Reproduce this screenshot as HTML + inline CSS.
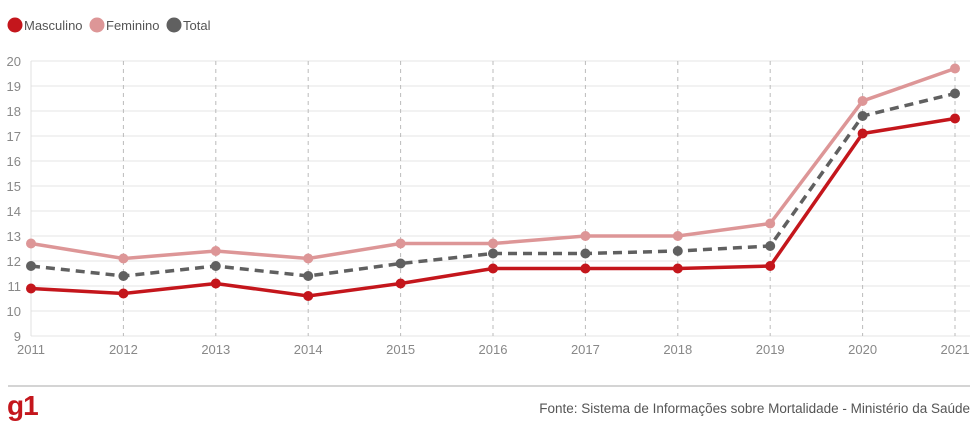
<!DOCTYPE html>
<html><head><meta charset="utf-8"><style>
body{margin:0;background:#fff;width:980px;height:432px;overflow:hidden;font-family:"Liberation Sans",sans-serif}
svg{position:absolute;left:0;top:0}
</style></head><body>
<svg width="980" height="432">
<g font-size="13" fill="#555">
<g><circle cx="15" cy="25" r="7.5" fill="#c4161c"/><text x="24" y="30">Masculino</text></g>
<g><circle cx="97" cy="25" r="7.5" fill="#dd9697"/><text x="106" y="30">Feminino</text></g>
<g><circle cx="174" cy="25" r="7.5" fill="#606060"/><text x="183" y="30">Total</text></g>
</g>
<g id="grid"></g>
<g id="marks"></g>
<line x1="8" x2="970" y1="386" y2="386" stroke="#aaa"/>
<text x="7" y="415" font-size="28" font-weight="bold" fill="#c4161c" letter-spacing="-1">g1</text>
<text x="970" y="413" font-size="13.5" fill="#555" text-anchor="end">Fonte: Sistema de Informações sobre Mortalidade - Ministério da Saúde</text>
</svg>
<script>
const years=[2011,2012,2013,2014,2015,2016,2017,2018,2019,2020,2021];
const masculino=[10.9,10.7,11.1,10.6,11.1,11.7,11.7,11.7,11.8,17.1,17.7];
const feminino=[12.7,12.1,12.4,12.1,12.7,12.7,13.0,13.0,13.5,18.4,19.7];
const total=[11.8,11.4,11.8,11.4,11.9,12.3,12.3,12.4,12.6,17.8,18.7];
const yTicks=[9,10,11,12,13,14,15,16,17,18,19,20];
const NS="http://www.w3.org/2000/svg";
const x=i=>31+i*(955-31)/(years.length-1);
const y=v=>336-(v-9)*25;
function mk(t,a,p){const e=document.createElementNS(NS,t);for(const k in a)e.setAttribute(k,a[k]);p.appendChild(e);return e;}
const g=document.getElementById('grid');
yTicks.forEach(v=>{
const l=mk('line',{x1:31,x2:970,y1:y(v),y2:y(v),stroke:'#e6e6e6'},g);


const t=mk('text',{x:21,y:y(v)+5,'font-size':13,fill:'#888','text-anchor':'end'},g);t.textContent=v;


});
years.forEach((yr,i)=>{
if(i>0){const l=mk('line',{x1:x(i),x2:x(i),y1:y(20),y2:336,stroke:'#bbb','stroke-dasharray':'4,4'},g);

}
const t=mk('text',{x:x(i),y:354,'font-size':13,fill:'#888','text-anchor':'middle'},g);t.textContent=yr;


});
const ax=mk('line',{x1:31,x2:31,y1:y(20),y2:336,stroke:'#e0e0e0'},g);


const m=document.getElementById('marks');
[[feminino,'#dd9697','','feminino'],[total,'#606060','9,6','total'],[masculino,'#c4161c','','masculino']].forEach(([d,c,da,n])=>{
const p=mk('polyline',{points:d.map((v,i)=>x(i)+','+y(v)).join(' '),fill:'none',stroke:c,'stroke-width':3.5,'stroke-dasharray':da},m);


d.forEach((v,i)=>{const ci=mk('circle',{cx:x(i),cy:y(v),r:5,fill:c},m);

});
});
</script>
</body></html>
